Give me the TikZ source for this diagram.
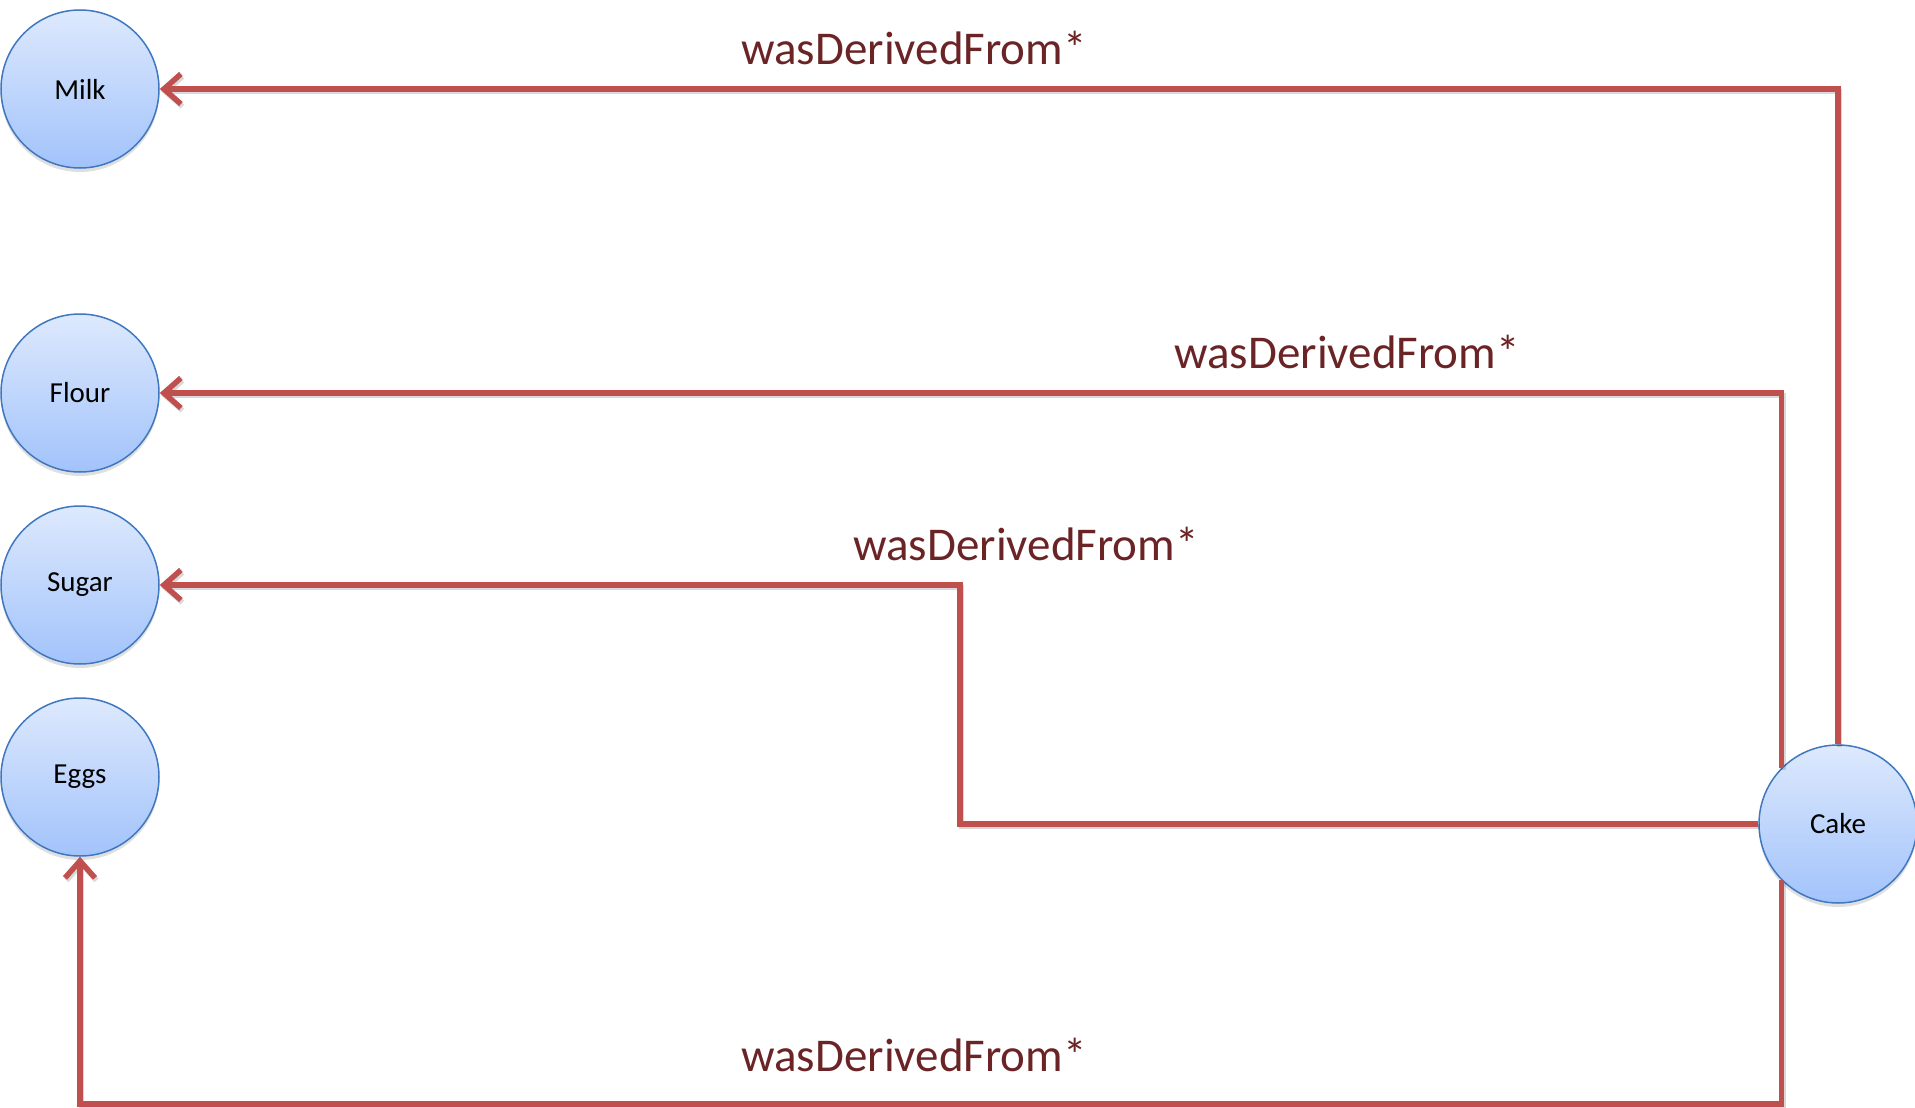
\documentclass[tikz,border=0pt]{standalone}
\usepackage{fontspec}
\setmainfont{Carlito}
\usetikzlibrary{arrows.meta, shadows}
\definecolor{derivedRed}{HTML}{C0504D}
\definecolor{labelRed}{HTML}{6B2426}
\definecolor{entityEdge}{HTML}{3F78C0}
\definecolor{entityTop}{HTML}{DDE9FD}
\definecolor{entityBottom}{HTML}{A2C3FB}
\tikzset{
    entity/.style={
        circle, draw=entityEdge, line width=1.5pt,
        top color=entityTop, bottom color=entityBottom,
        minimum size=158pt, inner sep=0pt,
        font=\fontsize{29}{34}\selectfont,
        drop shadow={opacity=0.25, shadow xshift=0pt, shadow yshift=-4pt}
    },
    derived/.style={
        draw=derivedRed, line width=5.5pt,
        -{Straight Barb[length=17pt, width=30pt]},
        preaction={draw=black, draw opacity=0.15, line width=5.5pt,
            transform canvas={shift={(1.5pt,-2.5pt)}}}
    },
    relation label/.style={
        text=labelRed, font=\fontsize{47}{56}\selectfont
    }
}

\begin{document}
\begin{tikzpicture}[x=1pt, y=-1pt]
    \useasboundingbox (0,0) rectangle (1915,1108);

    % entities
    \node[entity] (milk) at (80, 89) {Milk};
    \node[entity] (flour) at (80, 393) {Flour};
    \node[entity] (sugar) at (80, 585) {Sugar};
    \node[entity] (eggs) at (80, 777) {Eggs};
    \node[entity] (cake) at (1838, 824) {Cake};

    % bend points
    \coordinate (sugarbend) at (960, 585);
    \coordinate (eggsbase) at (80, 1104);

    % derivations
    \draw[derived] (cake.north) |- (milk.east);
    \draw[derived] (cake.135) |- (flour.east);
    \draw[derived] (cake.west) -- (cake.west -| sugarbend) |- (sugar.east);
    \draw[derived] (cake.225) -- (cake.225 |- eggsbase) -| (eggs.south);

    % labels
    \node[relation label] (milklabel) at (914, 48) {wasDerivedFrom*};
    \node[relation label] (flourlabel) at (1347, 352) {wasDerivedFrom*};
    \node[relation label] (sugarlabel) at (1026, 544) {wasDerivedFrom*};
    \node[relation label] (eggslabel) at (914, 1055) {wasDerivedFrom*};
\end{tikzpicture}
\end{document}
